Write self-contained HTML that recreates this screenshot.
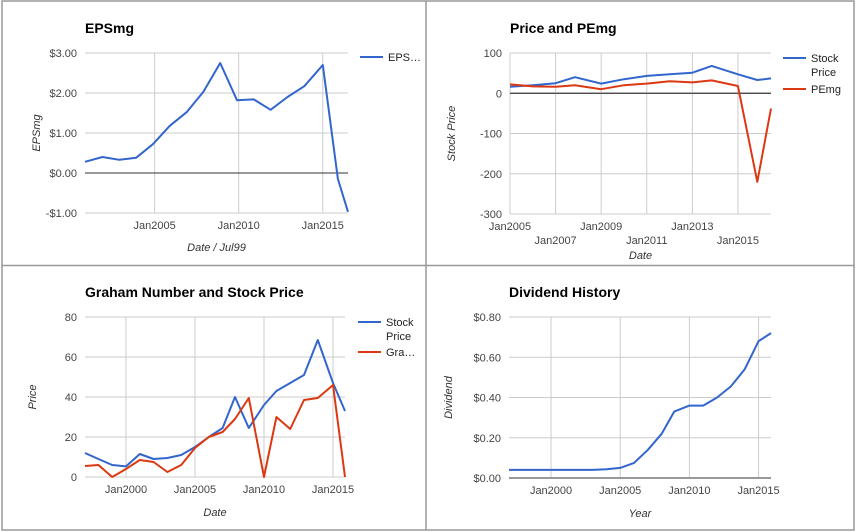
<!DOCTYPE html>
<html><head><meta charset="utf-8"><style>
body{margin:0;background:#fff;}
svg{display:block;font-family:"Liberation Sans",Arial,sans-serif;}
.tick{font-size:11px;fill:#444;}
.ttl{font-size:14px;font-weight:bold;fill:#000;}
.ax{font-size:11px;font-style:italic;fill:#333;}
.leg{font-size:11px;fill:#222;}
</style></head><body>
<svg id="c" width="856" height="532">
<rect x="0" y="0" width="856" height="532" fill="#fff"/>
<g stroke="#999" stroke-width="1.5" fill="none">
<rect x="2" y="1" width="852" height="529"/>
<line x1="426" y1="1" x2="426" y2="530"/>
<line x1="2" y1="265.5" x2="854" y2="265.5"/>
</g>
</svg>
<script>
// Panel 1: EPSmg
const epsYears=[2000.86,2001.9,2002.9,2003.9,2004.9,2005.9,2006.9,2007.9,2008.9,2009.9,2010.9,2011.9,2012.9,2013.9,2015.0,2015.9,2016.5];
const epsValues=[0.28,0.40,0.33,0.38,0.72,1.18,1.52,2.03,2.75,1.82,1.84,1.58,1.90,2.17,2.70,-0.15,-0.97];
const epsTicks=[3,2,1,0,-1];
const epsTickLabels=["$3.00","$2.00","$1.00","$0.00","-$1.00"];
// Panel 2: Price and PEmg
const pYears=[2005,2006,2007,2007.85,2009,2010,2011,2012,2013,2013.85,2015,2015.85,2016.45];
const pStock=[16,20,25,40,24,35,43,47,51,68,47,33,37];
const pPE=[22,17,16,20,10,20,24,30,27,32,18,-220,-38];
const pTicks=[100,0,-100,-200,-300];
// Panel 3: Graham
const gYears=[1997.03,1998,1999,2000,2001,2002,2003,2004,2005,2006,2007,2007.9,2008.9,2010,2010.9,2011.9,2012.9,2013.9,2015,2015.87];
const gStock=[12,9,6,5.3,11.5,9,9.5,11,15,20,24.5,40,24.5,36,43,47,51,68.5,47,33];
const gGraham=[5.5,6,0,4,8.5,7.5,2.5,6,14.5,20,22.5,29,39.5,0,30,24,38.5,39.5,46,0];
const gTicks=[80,60,40,20,0];
// Panel 4: Dividend
const dYears=[1996.96,1998,1999,2000,2001,2002,2003,2004,2005,2006,2007,2008,2008.9,2010,2011,2012,2013,2014,2015,2015.9];
const dValues=[0.04,0.04,0.04,0.04,0.04,0.04,0.04,0.043,0.05,0.075,0.14,0.22,0.33,0.36,0.36,0.40,0.455,0.54,0.68,0.72];
const dTicks=[0.8,0.6,0.4,0.2,0];
const dTickLabels=["$0.80","$0.60","$0.40","$0.20","$0.00"];

const svg=document.getElementById('c');
const NS='http://www.w3.org/2000/svg';
function mk(tag,attrs,parent){const e=document.createElementNS(NS,tag);for(const k in attrs)e.setAttribute(k,attrs[k]);(parent||svg).appendChild(e);return e;}
function txt(x,y,s,cls,anchor,parent){const t=mk('text',{x:x,y:y,class:cls,'text-anchor':anchor||'start'},parent);t.textContent=s;return t;}

function panel(o){
  const g=mk('g',{});
  
  
  const xs=v=>o.x0+(v-o.d0)/(o.d1-o.d0)*(o.x1-o.x0);
  const ys=v=>o.yb+(v-o.v0)/(o.v1-o.v0)*(o.yt-o.yb);
  const t=txt(o.x0,o.ty,o.title,'ttl','start',g);
  
  // horizontal grid
  o.ticks.forEach((v,i)=>{
    const l=mk('line',{x1:o.x0,x2:o.x1,y1:ys(v),y2:ys(v),stroke:v===0&&o.zero?'#333':'#ccc','stroke-width':1},g);
    
    const tl=txt(o.x0-8,ys(v)+4,o.tickLabels?o.tickLabels[i]:String(v),'tick','end',g);
    
  });
  o.xticks.forEach((v,i)=>{
    const l=mk('line',{x1:xs(v),x2:xs(v),y1:o.yt,y2:o.yb,stroke:'#ccc','stroke-width':1},g);
    
    const dy=o.stagger&&i%2===1?14:0;
    const tl=txt(xs(v),o.yb+16+dy,'Jan'+v,'tick','middle',g);
    
  });
  if(o.zero){const z=mk('line',{x1:o.x0,x2:o.x1,y1:ys(0),y2:ys(0),stroke:'#333','stroke-width':1},g);}
  if(o.baseDark){const z=mk('line',{x1:o.x0,x2:o.x1,y1:o.yb,y2:o.yb,stroke:'#999','stroke-width':2},g);}
  o.series.forEach((s,si)=>{
    const pts=s.vals.map((v,i)=>xs(o.years[i]).toFixed(1)+','+ys(v).toFixed(1)).join(' ');
    const p=mk('polyline',{points:pts,fill:'none',stroke:s.color,'stroke-width':2,'stroke-linejoin':'round'},g);
    
    if(s.leg){
      const ly=s.legY;
      const lg=mk('g',{},g);
      
      mk('line',{x1:o.lx,x2:o.lx+23,y1:ly-4,y2:ly-4,stroke:s.color,'stroke-width':2},lg);
      s.leg.forEach((line,k)=>txt(o.lx+28,ly+k*14,line,'leg','start',lg));
    }
  });
  const xa=txt((o.x0+o.x1)/2,o.xty,o.xtitle,'ax','middle',g);
  
  const cy=(o.yt+o.yb)/2;
  const ya=txt(o.ytx,cy,o.ytitle,'ax','middle',g);
  ya.setAttribute('transform','rotate(-90 '+o.ytx+' '+cy+')');
  
}

panel({name:'epsmg-chart',title:'EPSmg',ty:33,x0:85,x1:348,yt:53,yb:213,v0:-1,v1:3,d0:2000.86,d1:2016.5,
  ticks:epsTicks,tickLabels:epsTickLabels,xticks:[2005,2010,2015],zero:true,years:epsYears,
  series:[{id:'epsmg',vals:epsValues,color:'#3366cc',leg:['EPS…'],legY:61}],lx:360,
  xtitle:'Date / Jul99',xty:251,ytitle:'EPSmg',ytx:40});
panel({name:'price-pemg-chart',title:'Price and PEmg',ty:33,x0:510,x1:771,yt:53,yb:214,v0:-300,v1:100,d0:2005,d1:2016.45,
  ticks:pTicks,xticks:[2005,2007,2009,2011,2013,2015],stagger:true,zero:true,years:pYears,
  series:[{id:'stock-price',vals:pStock,color:'#3366cc',leg:['Stock','Price'],legY:62},{id:'pemg',vals:pPE,color:'#dc3912',leg:['PEmg'],legY:93}],lx:783,
  xtitle:'Date',xty:259,ytitle:'Stock Price',ytx:455});
panel({name:'graham-chart',title:'Graham Number and Stock Price',ty:297,x0:85,x1:345,yt:317,yb:477,v0:0,v1:80,d0:1997.03,d1:2015.87,
  ticks:gTicks,xticks:[2000,2005,2010,2015],zero:false,baseDark:false,years:gYears,
  series:[{id:'stock-price',vals:gStock,color:'#3366cc',leg:['Stock','Price'],legY:326},{id:'graham-number',vals:gGraham,color:'#dc3912',leg:['Gra…'],legY:356}],lx:358,
  xtitle:'Date',xty:516,ytitle:'Price',ytx:36});
panel({name:'dividend-chart',title:'Dividend History',ty:297,x0:509,x1:771,yt:317,yb:478,v0:0,v1:0.8,d0:1996.96,d1:2015.9,
  ticks:dTicks,tickLabels:dTickLabels,xticks:[2000,2005,2010,2015],zero:false,baseDark:true,years:dYears,
  series:[{id:'dividend',vals:dValues,color:'#3366cc'}],lx:0,
  xtitle:'Year',xty:517,ytitle:'Dividend',ytx:452});
</script>
</body></html>
